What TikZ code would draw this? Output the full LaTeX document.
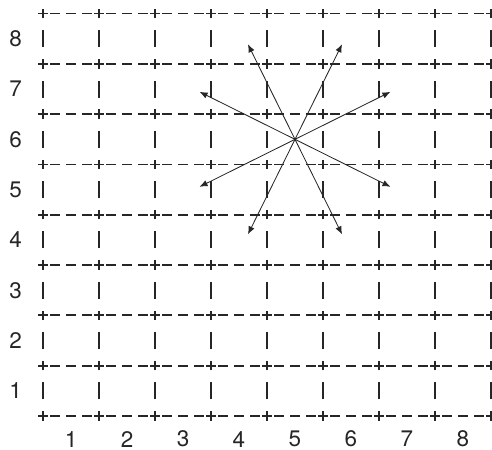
\documentclass[tikz,border=0pt]{standalone}
\usepackage{fontspec}
\setmainfont{TeX Gyre Heros}
\usetikzlibrary{arrows.meta}

\begin{document}
\begin{tikzpicture}[
    x=1.4cm, y=1.2575cm,
    grid/.style={line width=1.3pt, draw=black!85},
    hdash/.style={grid, dash pattern=on 0.25cm off 0.15cm on 0.25cm off 0.15cm on 0.25cm off 0.35cm},
    move/.style={-{Latex[length=0.2cm,width=0.16cm]}, line width=0.6pt, draw=black!85},
    numlabel/.style={font=\fontsize{16}{18}\selectfont, inner sep=0pt, text=black!85}
]
    \useasboundingbox (-0.768,-0.676) rectangle (8.018,8.27);

    % Dashed row lines and bars
    \foreach \j in {0,...,8}
        \draw[hdash] ([xshift=0.175cm]0,\j) -- ([xshift=-0.175cm]8,\j);
    \foreach \i in {0,...,8}
        \foreach \j in {0,...,7}
            \draw[grid] ([yshift=-0.2125cm]\i,\j+0.5) -- ++(0,0.425cm);

    % Plus signs
    \foreach \i in {0,...,8}
        \foreach \j in {0,...,8}
            \draw[grid] ([xshift=-0.117cm]\i,\j) -- ++(0.234cm,0)
                        ([yshift=-0.117cm]\i,\j) -- ++(0,0.234cm);

    % Row and column numbers
    \foreach \n in {1,...,8} {
        \node[numlabel] (row\n) at (-0.49,\n-0.5) {\n};
        \node[numlabel] (col\n) at (\n-0.5,-0.46) {\n};
    }

    % Moves from the centre square
    \coordinate (from) at (4.5,5.5);
    \coordinate (nne) at (5.34,7.39);
    \coordinate (nnw) at (3.66,7.39);
    \coordinate (ssw) at (3.66,3.61);
    \coordinate (sse) at (5.34,3.61);
    \coordinate (ene) at (6.205,6.444);
    \coordinate (wnw) at (2.795,6.444);
    \coordinate (wsw) at (2.795,4.556);
    \coordinate (ese) at (6.205,4.556);
    \foreach \t in {nne,nnw,ssw,sse,ene,wnw,wsw,ese}
        \draw[move] (from) -- (\t);
\end{tikzpicture}
\end{document}
